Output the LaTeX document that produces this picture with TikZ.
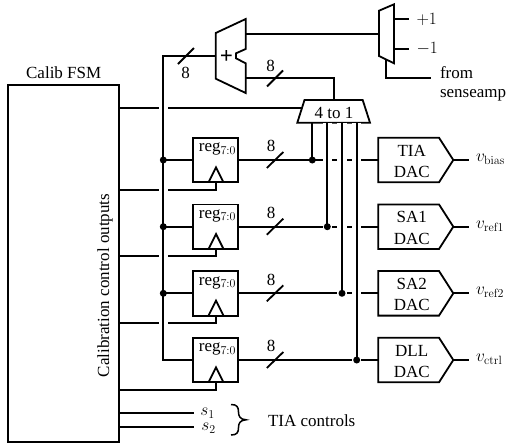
\documentclass[tikz,border=0pt]{standalone}
\usepackage[no-math]{fontspec}
\setmainfont{Liberation Serif}
\usetikzlibrary{calc}
\tikzset{
  wire/.style={line width=1.8pt,line join=miter},
  halo/.style={white,line width=9.4pt},
  regbox/.style={draw,line width=1.8pt,minimum width=45pt,minimum height=44.6pt,inner sep=0pt,outer sep=0pt},
  blk/.style={draw,line width=1.8pt,line join=miter},
  txt/.style={inner sep=0pt,outer sep=0pt,font=\fontsize{17}{19}\selectfont},
  dot/.style={circle,fill=black,minimum size=7pt,inner sep=0pt,outer sep=0pt},
}
\begin{document}
\begin{tikzpicture}[x=1pt,y=-1pt]
\useasboundingbox (0,0) rectangle (508,445);
% FSM
\node[blk,minimum width=111pt,minimum height=356.7pt,inner sep=0pt,outer sep=0pt] (fsm) at (63.5,263.3) {};
\node[txt] (fsmname) at (63.7,72.5) {Calib FSM};
\node[txt,rotate=90] (fsmtxt) at (105,285.5) {Calibration control outputs};
% adder
\draw[blk] (215.7,33) coordinate (addtl) -- (245.7,19) -- (245.7,49) -- (236,53.3) -- (236,58.3) -- (245.7,63.3) -- (245.7,93) -- (215.7,78.7) -- cycle;
\node[txt,font=\fontsize{23}{23}\bfseries\selectfont] (plus) at (226.5,56.5) {+};
\coordinate (addA) at (215.7,56);
\coordinate (addO1) at (245.7,33.7);
\coordinate (addO2) at (245.7,78.3);
% up/down mux
\draw[blk] (379,10.7) -- (394,4.3) -- (394,63.3) -- (379,56) -- cycle;
\coordinate (udIn) at (379,33.7);
\coordinate (udP) at (394,19);
\coordinate (udM) at (394,48.7);
\coordinate (udS) at (386,59.8);
\coordinate (pEnd) at (409,19);
\coordinate (mEnd) at (409,48.7);
\coordinate (fromEnd) at (431,78);
\node[txt,anchor=west] (plusone) at (416.5,19) {$+1$};
\node[txt,anchor=west] (minusone) at (416.5,48.7) {$-1$};
\node[txt,anchor=base west] (from) at (440,78) {from};
\node[txt,anchor=base west] (sense) at (440,97.5) {senseamp};
% 4 to 1 mux
\draw[blk] (304.5,100) -- (362.7,100) -- (370,122.7) -- (297.3,122.7) -- cycle;
\node[txt] (mux) at (334,113) {4 to 1};
\coordinate (muxT) at (334.3,100);
\coordinate (muxL) at (301.6,108.3);
\coordinate (m1) at (312.3,122.7);
\coordinate (m2) at (327.3,122.7);
\coordinate (m3) at (342,122.7);
\coordinate (m4) at (356.7,122.7);
% registers and DACs
\foreach \i/\yy/\ta in {1/160/TIA,2/226.7/SA1,3/293.3/SA2,4/360/DLL}{
  \node[regbox] (r\i) at (215.8,\yy) {};
  \node[txt,anchor=base] (rt\i) at (217.5,\yy-8.3) {reg$_{7:0}$};
  \draw[blk] (216-7.5,\yy+22.3) -- (216,\yy+7.3) -- (216+7.5,\yy+22.3);
  \coordinate (ck\i) at (216,\yy+22.3);
  \draw[blk] (378.3,\yy-22.3) coordinate (dtl\i) -- (439,\yy-22.3) -- (453.3,\yy) -- (439,\yy+22.3) -- (378.3,\yy+22.3) -- cycle;
  \coordinate (dI\i) at (378.3,\yy);
  \coordinate (dO\i) at (453.3,\yy);
  \coordinate (dE\i) at (469,\yy);
  \node[txt,anchor=base] (dt\i) at (411.7,\yy-4) {\ta};
  \node[txt,anchor=base] (db\i) at (411.7,\yy+17.3) {DAC};
  \draw[wire] (dO\i) -- (dE\i);
  \node[txt,anchor=base] (sl\i) at (271,\yy-8.3) {8};
}
\node[txt,anchor=west] (vb) at (476,159) {$v_{\mathrm{bias}}$};
\node[txt,anchor=west] (v1) at (476,226) {$v_{\mathrm{ref1}}$};
\node[txt,anchor=west] (v2) at (476,292) {$v_{\mathrm{ref2}}$};
\node[txt,anchor=west] (vc) at (476,359) {$v_{\mathrm{ctrl}}$};
% horizontals passing under buses
\draw[wire] (r1.east) -- (dI1);
\draw[wire] (r2.east) -- (dI2);
\draw[wire] (r3.east) -- (dI3);
\draw[wire] (r4.east) -- (dI4);
\coordinate (bus) at (163.3,56);
\coordinate (fsmE) at (119,0);
\draw[wire] (fsmE |- muxL) -- (muxL);
\draw[wire] (ck1) -- (216,189.6) -- (fsmE |- 216,189.6);
\draw[wire] (ck2) -- (216,256.3) -- (fsmE |- 216,256.3);
\draw[wire] (ck3) -- (216,323) -- (fsmE |- 216,323);
\draw[wire] (ck4) -- (216,390) -- (fsmE |- 216,390);
% crossing gaps
\draw[halo] (163.3,60) -- (163.3,350);
\draw[halo] (m2) -- ([yshift=-8pt]m2 |- r2.east);
\draw[halo] (m3) -- ([yshift=-8pt]m3 |- r3.east);
\draw[halo] (m4) -- ([yshift=-8pt]m4 |- r4.east);
% verticals
\draw[wire] (m1) -- (m1 |- r1.east) node[dot,pos=1] (j1) {};
\draw[wire] (m2) -- (m2 |- r2.east) node[dot,pos=1] (j2) {};
\draw[wire] (m3) -- (m3 |- r3.east) node[dot,pos=1] (j3) {};
\draw[wire] (m4) -- (m4 |- r4.east) node[dot,pos=1] (j4) {};
\draw[wire] (addA) -- (bus) -- (bus |- r4.west) -- (r4.west);
\draw[wire] (bus |- r1.west) node[dot] (b1) {} -- (r1.west);
\draw[wire] (bus |- r2.west) node[dot] (b2) {} -- (r2.west);
\draw[wire] (bus |- r3.west) node[dot] (b3) {} -- (r3.west);
% top wires
\draw[wire] (addO1) -- (udIn);
\draw[wire] (udP) -- (pEnd);
\draw[wire] (udM) -- (mEnd);
\draw[wire] (udS) |- (fromEnd);
\draw[wire] (addO2) -- (334.3,78.3) -- (muxT);
% slashes
\foreach \i in {1,2,3,4}{ \draw[wire] ($(r\i.east)+(28.5,8)$) -- ($(r\i.east)+(45,-8)$); }
\draw[wire] (178,64) -- (194,48);
\node[txt,anchor=base] (w1) at (185.7,78) {8};
\draw[wire] (267,86.5) -- (283,70.5);
\node[txt,anchor=base] (w2) at (270.7,71) {8};
% TIA controls
\coordinate (s1e) at (194,413.3);
\coordinate (s2e) at (194,427.3);
\draw[wire] (fsmE |- s1e) -- (s1e);
\draw[wire] (fsmE |- s2e) -- (s2e);
\node[txt,anchor=center] (s1) at (207.5,413) {$s_1$};
\node[txt,anchor=center] (s2) at (208.5,428.5) {$s_2$};
\draw[line width=1.5pt] (231,404.5) .. controls (237,404.5) and (238.5,407) .. (238.5,412)
  .. controls (238.5,416) and (240,419.5) .. (246,419.8)
  .. controls (240,420.1) and (238.5,423.5) .. (238.5,427.5)
  .. controls (238.5,432.5) and (237,435) .. (231,435);
\node[txt,anchor=west] (tiac) at (268,421) {TIA controls};
\end{tikzpicture}
\end{document}
